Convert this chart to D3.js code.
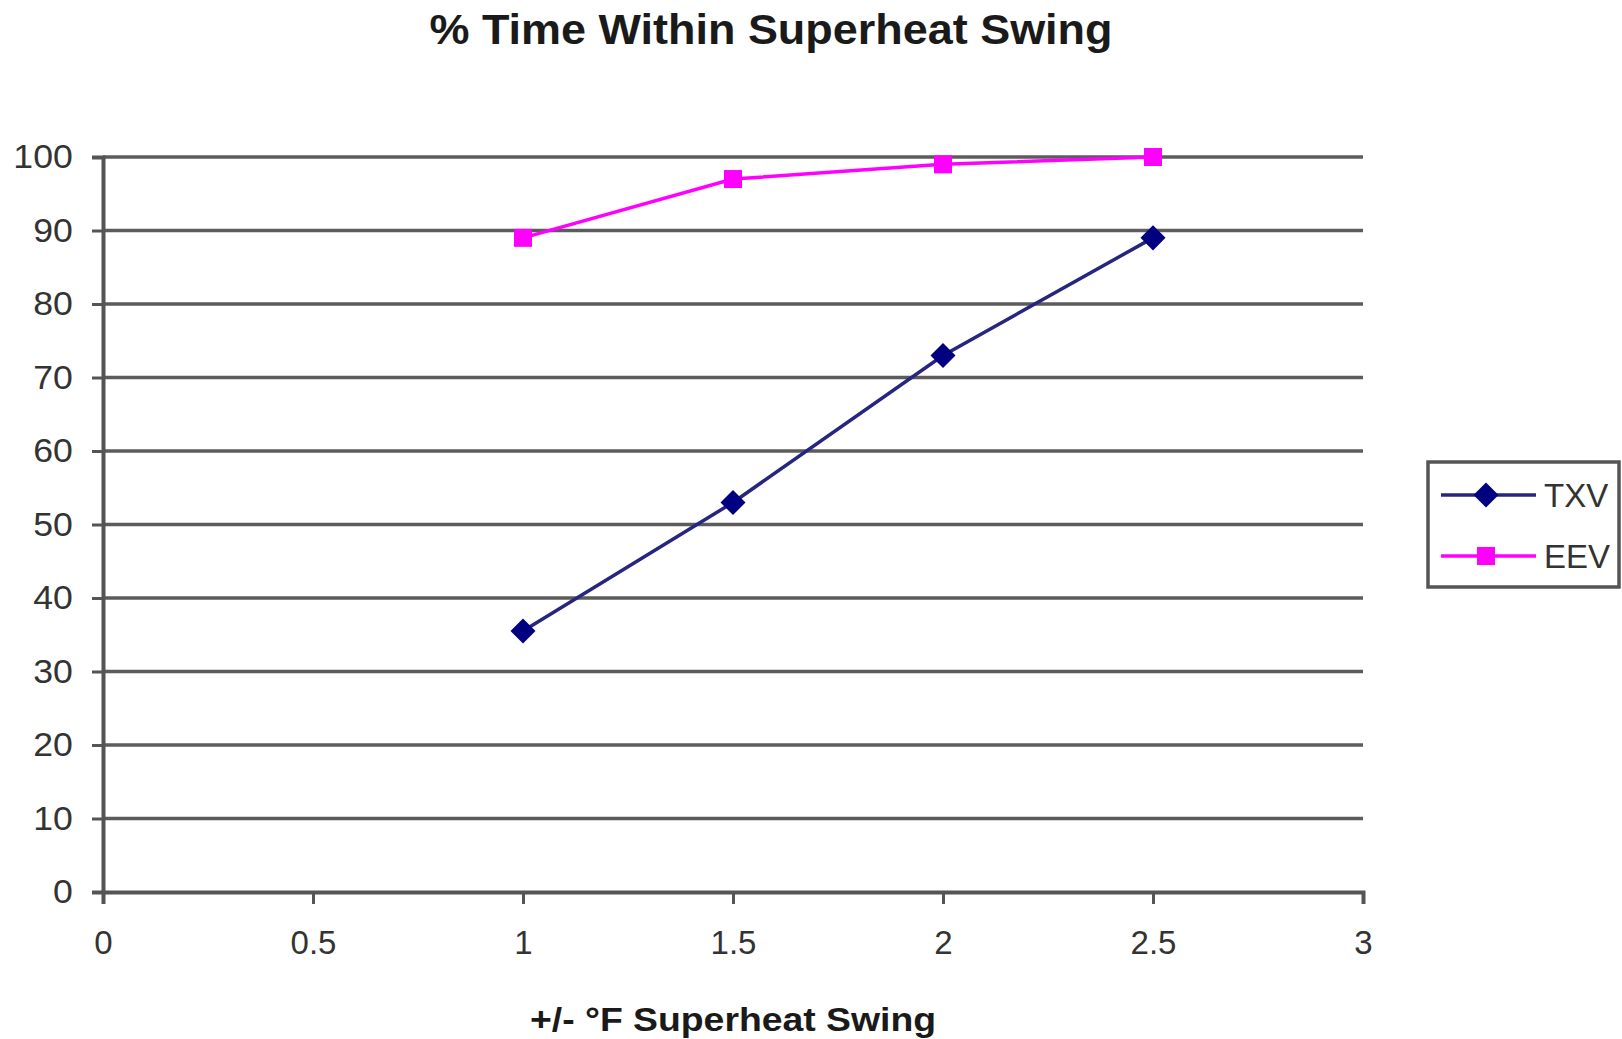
<!DOCTYPE html>
<html>
<head>
<meta charset="utf-8">
<script src="https://cdn.jsdelivr.net/npm/d3@7"></script>
<style>
  html, body { margin: 0; padding: 0; background: #fff; }
  svg { display: block; font-family: "Liberation Sans", Arial, sans-serif; }
</style>
</head>
<body>
<svg id="chart" width="1622" height="1039"></svg>
<script>
// Superheat swing (°F) and % of time spent within it
const swing = [1, 1.5, 2, 2.5];
const txv = [35.5, 53, 73, 89];
const eev = [89, 97, 99, 100];
const seriesNames = ["TXV", "EEV"];
const xTicks = [0, 0.5, 1, 1.5, 2, 2.5, 3];
const yTicks = [0, 10, 20, 30, 40, 50, 60, 70, 80, 90, 100];

const svg = d3.select("#chart");
const margin = { left: 103, right: 1363, top: 157, bottom: 892 };

const x = d3.scaleLinear().domain([0, 3]).range([margin.left, margin.right]);
const y = d3.scaleLinear().domain([0, 100]).range([margin.bottom, margin.top]);

// Title
svg.append("text")
  .attr("x", 771).attr("y", 44)
  .attr("text-anchor", "middle")
  .attr("font-size", 42).attr("font-weight", "bold")
  .attr("textLength", 683).attr("lengthAdjust", "spacingAndGlyphs")
  .attr("fill", "#1a1a1a")
  .text("% Time Within Superheat Swing");

// Horizontal gridlines
svg.append("g")
  .selectAll("line")
  .data(yTicks.filter(d => d > 0))
  .join("line")
  .attr("x1", x(0)).attr("x2", x(3))
  .attr("y1", d => y(d)).attr("y2", d => y(d))
  .attr("stroke", "#5c5c5c").attr("stroke-width", 3.5);

// Y axis
const yAxis = svg.append("g")
  .attr("transform", `translate(${x(0)},0)`)
  .call(d3.axisLeft(y).tickValues(yTicks).tickSize(11).tickPadding(17).tickFormat(d3.format("d")));
yAxis.select(".domain").attr("stroke", "#555").attr("stroke-width", 4);
yAxis.selectAll(".tick line").attr("stroke", "#555").attr("stroke-width", 3);
yAxis.selectAll(".tick text")
  .attr("font-size", 33).attr("fill", "#333")
  .attr("font-family", "'Liberation Sans', Arial, sans-serif")
  .attr("transform", "scale(1.08,1)");

// X axis
const xAxis = svg.append("g")
  .attr("transform", `translate(0,${y(0)})`)
  .call(d3.axisBottom(x).tickValues(xTicks).tickSize(12).tickPadding(27).tickFormat(d => String(d)));
xAxis.select(".domain").attr("stroke", "#555").attr("stroke-width", 4);
xAxis.selectAll(".tick line").attr("stroke", "#555").attr("stroke-width", 3);
xAxis.selectAll(".tick text")
  .attr("font-size", 33).attr("fill", "#333")
  .attr("font-family", "'Liberation Sans', Arial, sans-serif");

// X axis title
svg.append("text")
  .attr("x", 733).attr("y", 1031)
  .attr("text-anchor", "middle")
  .attr("font-size", 34).attr("font-weight", "bold")
  .attr("textLength", 406).attr("lengthAdjust", "spacingAndGlyphs")
  .attr("fill", "#1a1a1a")
  .text("+/- °F Superheat Swing");

const line = d3.line().x(d => x(d[0])).y(d => y(d[1]));

const txvPts = swing.map((s, i) => [s, txv[i]]);
const eevPts = swing.map((s, i) => [s, eev[i]]);

const diamondType = d3.symbolDiamond2 || d3.symbolDiamond;
const diamond = d3.symbol().type(diamondType).size(400);

// TXV series
svg.append("path").datum(txvPts)
  .attr("d", line).attr("fill", "none")
  .attr("stroke", "#262680").attr("stroke-width", 3.5);
svg.append("g").selectAll("path")
  .data(txvPts).join("path")
  .attr("transform", d => `translate(${x(d[0])},${y(d[1])})`)
  .attr("d", diamond).attr("fill", "#000080");

// EEV series
svg.append("path").datum(eevPts)
  .attr("d", line).attr("fill", "none")
  .attr("stroke", "#ff00ff").attr("stroke-width", 3.5);
svg.append("g").selectAll("rect")
  .data(eevPts).join("rect")
  .attr("x", d => x(d[0]) - 9).attr("y", d => y(d[1]) - 9)
  .attr("width", 18).attr("height", 18)
  .attr("fill", "#ff00ff");

// Legend
const legend = svg.append("g").attr("transform", "translate(1428,462)");
legend.append("rect")
  .attr("x", 0).attr("y", 0).attr("width", 191).attr("height", 125)
  .attr("fill", "#fff").attr("stroke", "#555").attr("stroke-width", 3.5);

const legendRows = [
  { name: seriesNames[0], color: "#262680", fill: "#000080", y: 33, mark: "diamond" },
  { name: seriesNames[1], color: "#ff00ff", fill: "#ff00ff", y: 94, mark: "square" }
];
legendRows.forEach(r => {
  legend.append("line")
    .attr("x1", 13).attr("x2", 108).attr("y1", r.y).attr("y2", r.y)
    .attr("stroke", r.color).attr("stroke-width", 3.5);
  if (r.mark === "diamond") {
    legend.append("path")
      .attr("transform", `translate(58,${r.y})`)
      .attr("d", diamond).attr("fill", r.fill);
  } else {
    legend.append("rect")
      .attr("x", 49).attr("y", r.y - 9).attr("width", 18).attr("height", 18)
      .attr("fill", r.fill);
  }
  legend.append("text")
    .attr("x", 116).attr("y", r.y + 12)
    .attr("font-size", 33).attr("fill", "#333")
    .text(r.name);
});
</script>
</body>
</html>
